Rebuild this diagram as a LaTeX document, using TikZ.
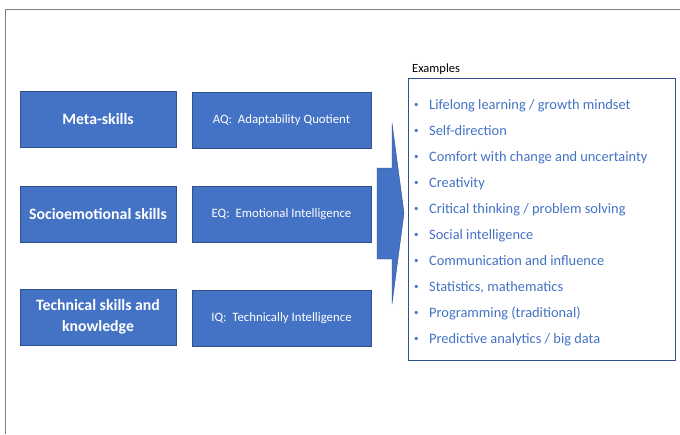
\documentclass[tikz,border=0pt]{standalone}
\usepackage{fontspec}
\setmainfont{Carlito}
\usepackage{xcolor}
\usepackage{tikz}
\usetikzlibrary{positioning}

\definecolor{boxblue}{HTML}{4472C4}
\definecolor{boxedge}{HTML}{2F528F}
\definecolor{framegray}{HTML}{7F7F7F}

\newcommand{\itembullet}{\makebox[16pt][l]{\hspace{1pt}\raisebox{1.8pt}{\fontsize{9}{9}\selectfont\textbullet}}}

\tikzset{
    skillbox/.style={rectangle, draw = boxedge, fill = boxblue, text = white, inner sep = 0pt,
        minimum width = 156pt, minimum height = 56pt, align = center,
        font = \fontsize{15.8}{21}\selectfont\bfseries},
    quotbox/.style={rectangle, draw = boxedge, fill = boxblue, text = white, inner sep = 0pt,
        minimum width = 179pt, minimum height = 56pt, font = \fontsize{12.8}{15}\selectfont},
    item/.style={anchor = base west, text = boxblue, inner sep = 0pt, font = \fontsize{14.4}{17}\selectfont},
}

\begin{document}
\begin{tikzpicture}[x=1pt, y=-1pt]
    		\useasboundingbox (0,0) rectangle (680,434);
    		\draw[framegray, line width = 1pt] (5,434) -- (5,9.5) -- (680,9.5);
    		
    		\node (meta)[skillbox] at (98,119) {Meta-skills};
    		\node (socio)[skillbox] at (98,214) {Socioemotional skills};
    		\node (tech)[skillbox] at (98,317) {Technical skills and\\knowledge};
    		
        	\node (aq)[quotbox] at (281.5,120) {AQ:\ \ Adaptability Quotient};
        	\node (eq)[quotbox] at (281.5,214) {EQ:\ \ Emotional Intelligence};
        	\node (iq)[quotbox] at (281.5,318) {IQ:\ \ Technically Intelligence};
        	
        	\draw[boxedge, fill = boxblue] (377,168) -- (392,168) -- (392,123) -- (404,213)
        		-- (392,304) -- (392,259) -- (377,259) -- cycle;
        	
        	\node (ex)[rectangle, draw = boxedge, minimum width = 267pt, minimum height = 282pt] at (541.5,219) {};
        	\node (extitle)[anchor = base west, inner sep = 0pt, font = \fontsize{12.5}{14}\selectfont] at (412,72) {Examples};
        	
        	\node (l1)[item] at (413,109) {\itembullet Lifelong learning / growth mindset};
        	\node (l2)[item] at (413,135) {\itembullet Self-direction};
        	\node (l3)[item] at (413,161) {\itembullet Comfort with change and uncertainty};
        	\node (l4)[item] at (413,187) {\itembullet Creativity};
        	\node (l5)[item] at (413,213) {\itembullet Critical thinking / problem solving};
        	\node (l6)[item] at (413,239) {\itembullet Social intelligence};
        	\node (l7)[item] at (413,265) {\itembullet Communication and influence};
        	\node (l8)[item] at (413,291) {\itembullet Statistics, mathematics};
        	\node (l9)[item] at (413,317) {\itembullet Programming (traditional)};
        	\node (l10)[item] at (413,343) {\itembullet Predictive analytics / big data};
        	
    	\end{tikzpicture}
\end{document}
